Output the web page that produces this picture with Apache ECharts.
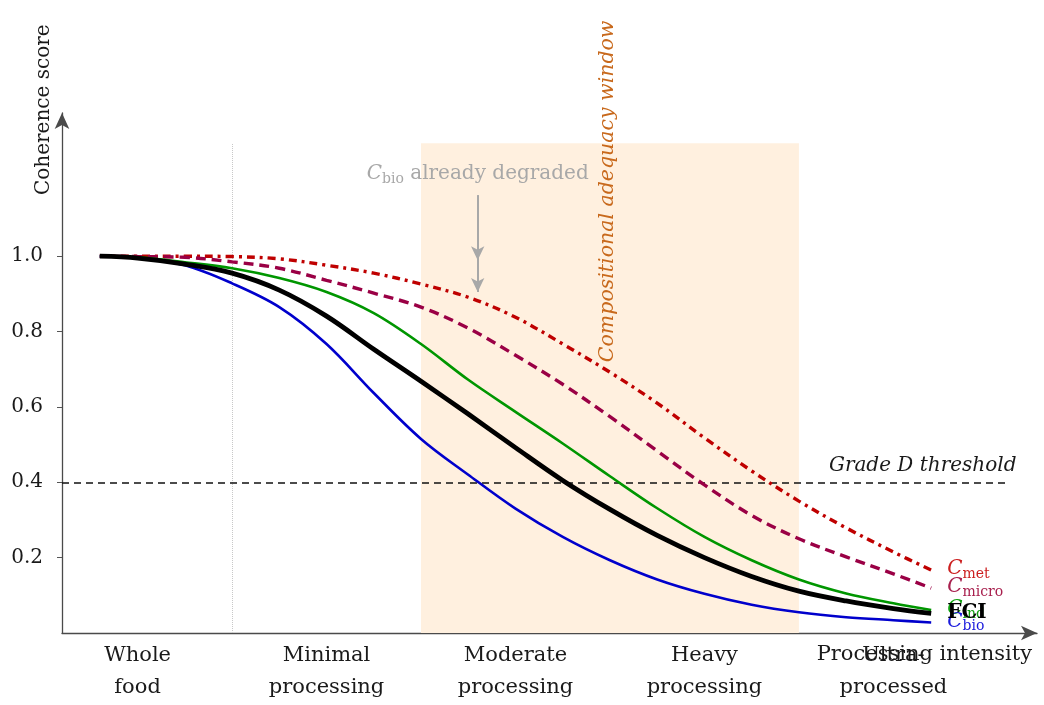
<!DOCTYPE html>
<html><head><meta charset="utf-8">
<script src="https://cdn.jsdelivr.net/npm/echarts@6/dist/echarts.min.js"></script>
<style>html,body{margin:0;padding:0;background:#fff}#c{width:1044px;height:705px}</style>
</head><body><div id="c"></div>
<script>
// ---- data ----
const xs      = [0.8, 1.0, 1.25, 1.5, 1.75, 2.0, 2.25, 2.5, 2.75, 3.0, 3.25, 3.5, 3.75, 4.0, 4.25, 4.5, 4.75, 5.0, 5.2];
const fci     = [1.000, 0.995, 0.979, 0.955, 0.910, 0.841, 0.753, 0.668, 0.581, 0.492, 0.405, 0.328, 0.259, 0.200, 0.150, 0.111, 0.085, 0.065, 0.052];
const cInd    = [1.000, 0.997, 0.984, 0.968, 0.942, 0.905, 0.849, 0.767, 0.672, 0.587, 0.503, 0.416, 0.331, 0.255, 0.193, 0.142, 0.105, 0.079, 0.061];
const cBio    = [1.000, 0.995, 0.976, 0.928, 0.865, 0.767, 0.637, 0.515, 0.420, 0.330, 0.255, 0.193, 0.142, 0.104, 0.075, 0.055, 0.042, 0.034, 0.028];
const cMicro  = [1.000, 0.999, 0.997, 0.985, 0.968, 0.936, 0.902, 0.865, 0.809, 0.737, 0.660, 0.574, 0.483, 0.393, 0.312, 0.250, 0.202, 0.157, 0.119];
const cMet    = [1.000, 1.000, 1.000, 0.999, 0.993, 0.976, 0.955, 0.926, 0.891, 0.838, 0.767, 0.692, 0.610, 0.518, 0.430, 0.350, 0.279, 0.215, 0.167];
const categories = ['Whole\nfood', 'Minimal\nprocessing', 'Moderate\nprocessing', 'Heavy\nprocessing', 'Ultra-\nprocessed'];
const categoryPositions = [1, 2, 3, 4, 5];
const yTicks = [0.2, 0.4, 0.6, 0.8, 1.0];
const threshold = 0.4;
const windowRange = [2.5, 4.5];
const windowTop = 1.3;
const dividerX = 1.5;
const arrowX = 2.8, arrowFrom = 1.162, arrowHead1 = 0.989, arrowHead2 = 0.905;

// ---- chart ----
const FONT = 'DejaVu Serif';
const pts = ys => xs.map((x, i) => [x, ys[i]]);
const subRich = color => ({
  c: {fontFamily: FONT, fontStyle: 'italic', fontSize: 20, color, lineHeight: 22, verticalAlign: 'top'},
  s: {fontFamily: FONT, fontSize: 14, color, lineHeight: 14, padding: [9, 0, 0, 0], verticalAlign: 'bottom'},
  t: {fontFamily: FONT, fontSize: 20, color, lineHeight: 22, verticalAlign: 'top'},
  b: {fontFamily: FONT, fontSize: 20, fontWeight: 'bold', color, lineHeight: 22, verticalAlign: 'top'}
});
function curve(name, data, color, width, type, labelText, labelColor, z) {
  return {
    type: 'line', name, data: pts(data), showSymbol: false, symbol: 'none',
    smooth: 0.35, z,
    lineStyle: {color, width, type, cap: 'butt'},
    endLabel: {show: true, formatter: labelText, distance: 16, rich: subRich(labelColor)},
    emphasis: {disabled: true}, silent: true
  };
}

const chart = echarts.init(document.getElementById('c'), null, {renderer: 'canvas'});
chart.setOption({
  animation: false,
  backgroundColor: '#fff',
  grid: {left: 62, right: 7, top: 113, bottom: 72, containLabel: false, outerBoundsMode: 'none'},
  xAxis: {
    type: 'value', min: 0.6, max: 5.76,
    axisLine: {show: true, symbol: ['none', 'arrow'], symbolSize: [11, 16], lineStyle: {color: '#4a4a4a', width: 1.3}},
    axisTick: {show: false}, splitLine: {show: false},
    axisLabel: {
      customValues: categoryPositions,
      formatter: v => categories[Math.round(v) - 1],
      fontFamily: FONT, fontSize: 21, color: '#1a1a1a', lineHeight: 32, margin: 7
    },
    name: 'Processing intensity', nameLocation: 'end', nameGap: -5, nameMoveOverlap: false,
    nameTextStyle: {fontFamily: FONT, fontSize: 21, color: '#1a1a1a', align: 'right', verticalAlign: 'top', padding: [11, 0, 0, 0]}
  },
  yAxis: {
    type: 'value', min: 0, max: 1.38,
    axisLine: {show: true, symbol: ['none', 'arrow'], symbolSize: [11, 16], lineStyle: {color: '#4a4a4a', width: 1.3}},
    axisTick: {show: true, customValues: yTicks, length: 5, lineStyle: {color: '#555'}},
    splitLine: {show: false},
    axisLabel: {customValues: yTicks, formatter: v => v.toFixed(1), fontFamily: FONT, fontSize: 20, color: '#1a1a1a', margin: 19},
    name: 'Coherence score', nameLocation: 'end', nameRotate: 90, nameGap: -82, nameMoveOverlap: false,
    nameTextStyle: {fontFamily: FONT, fontSize: 20, color: '#1a1a1a', verticalAlign: 'bottom', padding: [0, 0, 8, 0]}
  },
  series: [
    {
      type: 'line', data: [[0.6, 0]], symbol: 'none', lineStyle: {opacity: 0}, z: 1, silent: true,
      markArea: {
        silent: true, z: 1,
        itemStyle: {color: '#fff0df'},
        data: [[{coord: [windowRange[0], 0]}, {coord: [windowRange[1], windowTop]}]]
      },
      markLine: {
        silent: true, symbol: ['none', 'none'], label: {show: false}, z: 2,
        data: [
          [{coord: [dividerX, 0], lineStyle: {color: '#c8c8c8', type: 'dotted', width: 1}}, {coord: [dividerX, windowTop]}],
          [{coord: [0.6, threshold], lineStyle: {color: '#111', type: [7, 5], width: 1.7}}, {coord: [5.6, threshold]}],
          [{coord: [arrowX, arrowFrom], symbol: 'none', lineStyle: {color: '#a8a8a8', type: 'solid', width: 2}},
           {coord: [arrowX, arrowHead2], symbol: 'arrow', symbolSize: [10, 14]}],
          [{coord: [arrowX, arrowFrom], symbol: 'none', lineStyle: {color: '#a8a8a8', type: 'solid', width: 2}},
           {coord: [arrowX, arrowHead1], symbol: 'arrow', symbolSize: [10, 14]}]
        ]
      },
      markPoint: {
        silent: true, symbol: 'circle', symbolSize: 0, z: 3,
        data: [
          {coord: [5.155, threshold], label: {show: true, position: 'top', distance: 6, formatter: 'Grade D threshold',
            fontFamily: FONT, fontStyle: 'italic', fontSize: 20, color: '#1a1a1a'}},
          {coord: [arrowX, 1.186], label: {show: true, position: 'top', distance: 0,
            formatter: '{c|C}{s|bio}{t| already degraded}', rich: subRich('#a8a8a8')}},
          {coord: [3.49, 1.172], label: {show: true, position: 'inside', rotate: 90, formatter: 'Compositional adequacy window',
            fontFamily: FONT, fontStyle: 'italic', fontSize: 20.5, color: '#c8691c'}}
        ]
      }
    },
    curve('C_met', cMet, '#bf0000', 3.4, [8, 5, 3, 5], '{c|C}{s|met}', '#cc1f1f', 5),
    curve('C_micro', cMicro, '#9a0045', 3.4, [10, 6], '{c|C}{s|micro}', '#a8204e', 5),
    curve('C_ind', cInd, '#009600', 2.6, 'solid', '{c|C}{s|ind}', '#0f9f0f', 6),
    curve('C_bio', cBio, '#0000cc', 2.6, 'solid', '{c|C}{s|bio}', '#1a1adc', 6),
    curve('FCI', fci, '#000000', 4.8, 'solid', '{b|FCI}', '#000000', 7)
  ]
});
</script></body></html>
